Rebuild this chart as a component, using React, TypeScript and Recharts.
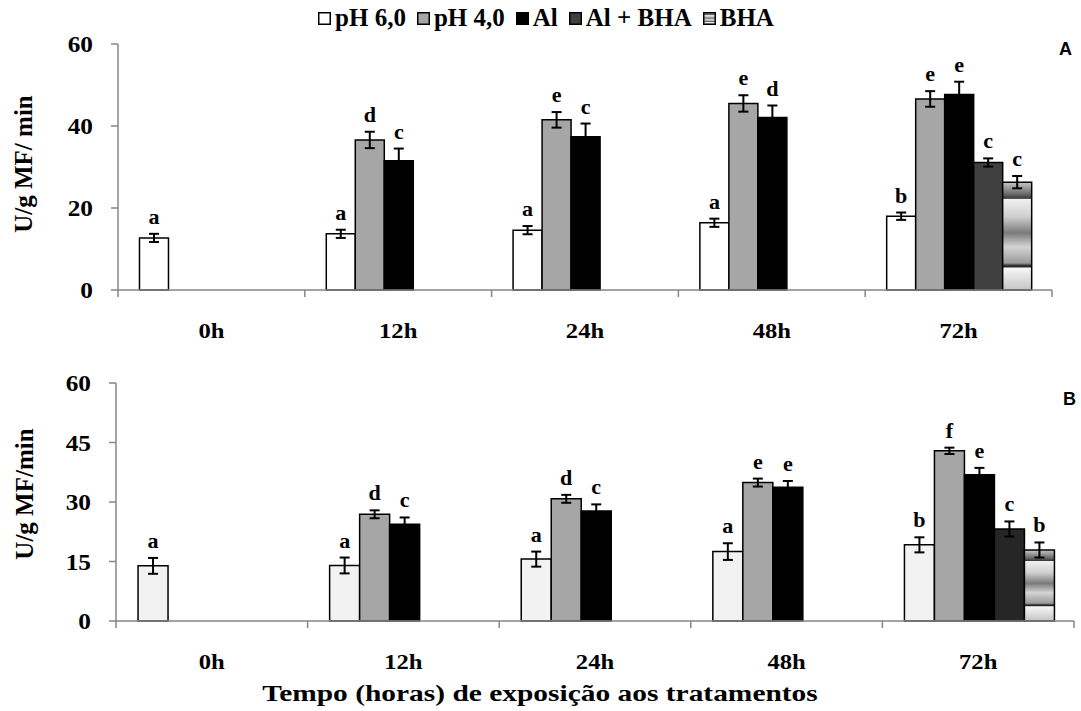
import React from 'react';
import { BarChart, Bar, XAxis, YAxis, ErrorBar, LabelList, Legend } from 'recharts';

const categories = ['0h', '12h', '24h', '48h', '72h'];

// painel A
const aPh6 = [12.7, 13.7, 14.6, 16.4, 18.0];
const aPh6Err = [1.0, 1.0, 1.0, 1.0, 0.9];
const aPh6Let = ['a', 'a', 'a', 'a', 'b'];
const aPh4 = [null, 36.6, 41.5, 45.5, 46.6];
const aPh4Err = [null, 2.0, 1.9, 2.0, 1.9];
const aPh4Let = [null, 'd', 'e', 'e', 'e'];
const aAl = [null, 31.5, 37.4, 42.1, 47.7];
const aAlErr = [null, 3.0, 3.2, 2.9, 3.1];
const aAlLet = [null, 'c', 'c', 'd', 'e'];
const aAlBha = [null, null, null, null, 31.1];
const aAlBhaErr = [null, null, null, null, 1.0];
const aAlBhaLet = [null, null, null, null, 'c'];
const aBha = [null, null, null, null, 26.3];
const aBhaErr = [null, null, null, null, 1.5];
const aBhaLet = [null, null, null, null, 'c'];

// painel B
const bPh6 = [13.9, 14.0, 15.6, 17.5, 19.2];
const bPh6Err = [2.0, 2.0, 1.9, 2.1, 1.9];
const bPh6Let = ['a', 'a', 'a', 'a', 'b'];
const bPh4 = [null, 26.9, 30.8, 34.9, 42.9];
const bPh4Err = [null, 1.0, 1.0, 1.0, 0.8];
const bPh4Let = [null, 'd', 'd', 'e', 'f'];
const bAl = [null, 24.4, 27.7, 33.7, 36.9];
const bAlErr = [null, 1.7, 1.7, 1.6, 1.7];
const bAlLet = [null, 'c', 'c', 'e', 'e'];
const bAlBha = [null, null, null, null, 23.2];
const bAlBhaErr = [null, null, null, null, 1.9];
const bAlBhaLet = [null, null, null, null, 'c'];
const bBha = [null, null, null, null, 17.9];
const bBhaErr = [null, null, null, null, 1.9];
const bBhaLet = [null, null, null, null, 'b'];

const aTicks = [0, 20, 40, 60];
const bTicks = [0, 15, 30, 45, 60];

const seriesNames = ['pH 6,0', 'pH 4,0', 'Al', 'Al + BHA', 'BHA'];
const keys = ['ph6', 'ph4', 'al', 'albha', 'bha'];

const serif = '"Liberation Serif", "Times New Roman", serif';
const axisColor = '#868686';

const buildRows = (vals: any[][], errs: any[][], lets: any[][]) =>
  categories.map((cat, i) => {
    const row: any = { cat };
    keys.forEach((k, j) => {
      row[k] = vals[j][i];
      row[k + 'E'] = errs[j][i];
      row[k + 'L'] = lets[j][i];
    });
    return row;
  });

const rowsA = buildRows(
  [aPh6, aPh4, aAl, aAlBha, aBha],
  [aPh6Err, aPh4Err, aAlErr, aAlBhaErr, aBhaErr],
  [aPh6Let, aPh4Let, aAlLet, aAlBhaLet, aBhaLet]
);
const rowsB = buildRows(
  [bPh6, bPh4, bAl, bAlBha, bBha],
  [bPh6Err, bPh4Err, bAlErr, bAlBhaErr, bBhaErr],
  [bPh6Let, bPh4Let, bAlLet, bAlBhaLet, bBhaLet]
);

const fillsA = ['#ffffff', '#a6a6a6', '#000000', '#404040', 'url(#bhaA)'];
const fillsB = ['#f2f2f2', '#a6a6a6', '#000000', '#262626', 'url(#bhaB)'];

const BhaGradient = ({ id }: { id: string }) => (
  <linearGradient id={id} x1="0" y1="0" x2="0" y2="1">
    <stop offset="0%" stopColor="#c8c8c8" />
    <stop offset="11%" stopColor="#6a6a6a" />
    <stop offset="15%" stopColor="#3a3a3a" />
    <stop offset="16%" stopColor="#f0f0f0" />
    <stop offset="32%" stopColor="#cfcfcf" />
    <stop offset="47%" stopColor="#7a7a7a" />
    <stop offset="60%" stopColor="#d4d4d4" />
    <stop offset="75%" stopColor="#9a9a9a" />
    <stop offset="78%" stopColor="#111111" />
    <stop offset="80%" stopColor="#f6f6f6" />
    <stop offset="100%" stopColor="#c4c4c4" />
  </linearGradient>
);

// text stretched sideways, like the original figure
const Wide = ({ x, y, sx = 1.1, size = 22, anchor = 'middle', children, rotate }: any) => (
  <g transform={`translate(${x},${y})${rotate ? ` rotate(${rotate})` : ''} scale(${sx},1)`}>
    <text x={0} y={0} textAnchor={anchor} fontFamily={serif} fontWeight="bold" fontSize={size} fill="#000">
      {children}
    </text>
  </g>
);

// letter|error|value packed so the label finds its own bar
const letterKey = (k: string) => (d: any) =>
  d[k] == null || d[k + 'L'] == null ? null : `${d[k + 'L']}|${d[k + 'E'] || 0}|${d[k]}`;

const LetterLabel = (props: any) => {
  const vb = props.viewBox || props;
  const { x, y, width, height } = vb;
  if (props.value == null) return null;
  const [letter, err, val] = String(props.value).split('|');
  const pxPerUnit = height / Number(val);
  const top = y - Number(err) * pxPerUnit;
  return <Wide x={x + width / 2} y={top - 10} size={21} sx={1.05}>{letter}</Wide>;
};

const makeXTick = (axisY: number, half: number) => (props: any) => {
  const { x, payload, index } = props;
  return (
    <g>
      <line x1={x - half} x2={x - half} y1={axisY} y2={axisY + 7} stroke={axisColor} strokeWidth={1.5} />
      {index === categories.length - 1 && (
        <line x1={x + half} x2={x + half} y1={axisY} y2={axisY + 7} stroke={axisColor} strokeWidth={1.5} />
      )}
      <Wide x={x} y={axisY + 48} size={22} sx={1.12}>{payload.value}</Wide>
    </g>
  );
};

const makeYTick = (props: any) => {
  const { x, y, payload } = props;
  return <Wide x={x} y={y + 8} size={23} sx={1.1} anchor="end">{payload.value}</Wide>;
};

const LegendContent = () => (
  <div style={{ display: 'flex', justifyContent: 'center', alignItems: 'center', paddingLeft: 22, fontFamily: serif, fontWeight: 'bold', fontSize: 25, color: '#000' }}>
    {seriesNames.map((name, i) => (
      <div key={name} style={{ display: 'flex', alignItems: 'center', marginRight: 11 }}>
        <svg width={13} height={13} style={{ marginRight: 4 }}>
          <defs><BhaGradient id="bhaLeg" /></defs>
          <rect x={0.75} y={0.75} width={11.5} height={11.5} fill={i === 4 ? 'url(#bhaLeg)' : fillsA[i]} stroke="#000" strokeWidth={1.5} />
        </svg>
        <span>{name}</span>
      </div>
    ))}
  </div>
);

const Panel = ({ rows, fills, ticks, height, margin, axisY, half, gradId, yTitle, letter, letterPos, yTitlePos, children }: any) => (
  <BarChart width={1081} height={height} data={rows} margin={margin} barGap={0} barCategoryGap="11.5%">
    <defs><BhaGradient id={gradId} /></defs>
    <XAxis dataKey="cat" stroke={axisColor} strokeWidth={1.5} tickLine={false} tick={makeXTick(axisY, half)} interval={0} height={30} />
    <YAxis domain={[0, 60]} ticks={ticks} stroke={axisColor} strokeWidth={1.5} tickSize={7} tickMargin={18} tick={makeYTick} width={60} />
    {keys.map((k, i) => (
      <Bar key={k} dataKey={k} name={seriesNames[i]} fill={fills[i]} stroke="#000" strokeWidth={1.5} isAnimationActive={false}>
        <ErrorBar dataKey={k + 'E'} width={5} stroke="#000" strokeWidth={2} direction="y" />
        <LabelList dataKey={letterKey(k)} content={LetterLabel} />
      </Bar>
    ))}
    <Wide x={yTitlePos[0] + 8} y={yTitlePos[1]} rotate={-90} size={25} sx={1}>{yTitle}</Wide>
    <text x={letterPos[0]} y={letterPos[1]} fontFamily='"Liberation Sans", Arial, sans-serif' fontWeight="bold" fontSize={18} fill="#000">
      {letter}
    </text>
    {children}
  </BarChart>
);

export default function App() {
  return (
    <div style={{ position: 'absolute', left: 0, top: 0, width: 1081, height: 711, background: '#fff' }}>
      <Panel
        rows={rowsA}
        fills={fillsA}
        ticks={aTicks}
        height={345}
        margin={{ top: 44, right: 29, bottom: 25, left: 58 }}
        axisY={290}
        half={93.4}
        gradId="bhaA"
        yTitle="U/g MF/ min"
        letter="A"
        letterPos={[1059, 55]}
        yTitlePos={[24, 164]}
      >
        <Legend verticalAlign="middle" align="center" wrapperStyle={{ top: 4, left: 0, width: 1081 }} content={LegendContent} />
      </Panel>
      <Panel
        rows={rowsB}
        fills={fillsB}
        ticks={bTicks}
        height={366}
        margin={{ top: 38, right: 7, bottom: 60, left: 56 }}
        axisY={276}
        half={95.8}
        gradId="bhaB"
        yTitle="U/g MF/min"
        letter="B"
        letterPos={[1063, 60]}
        yTitlePos={[25, 149]}
      >
        <Wide x={540} y={356} size={23} sx={1.28}>Tempo (horas) de exposição aos tratamentos</Wide>
      </Panel>
    </div>
  );
}
